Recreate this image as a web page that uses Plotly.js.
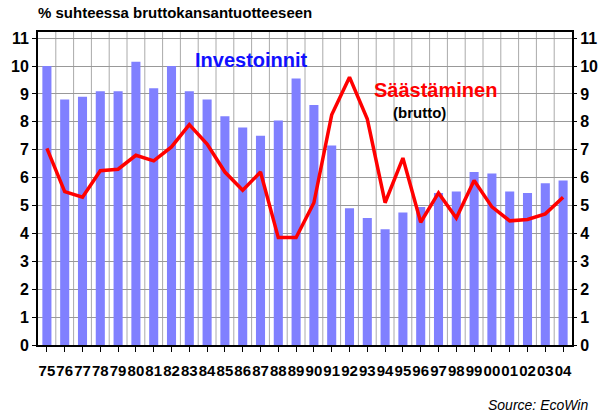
<!DOCTYPE html>
<html>
<head>
<meta charset="utf-8">
<script src="https://cdn.plot.ly/plotly-3.0.1.min.js"></script>
<style>html,body{margin:0;padding:0;background:#fff;}#chart{width:605px;height:416px;}</style>
</head>
<body>
<div id="chart"></div>
<script>
const years = ['75','76','77','78','79','80','81','82','83','84','85','86','87','88','89','90','91','92','93','94','95','96','97','98','99','00','01','02','03','04'];
const investoinnit = [10.0,8.8,8.9,9.1,9.1,10.15,9.2,10.0,9.1,8.8,8.2,7.8,7.5,8.05,9.55,8.6,7.15,4.9,4.55,4.15,4.75,4.95,5.45,5.5,6.2,6.15,5.5,5.45,5.8,5.9];
const saastaminen = [7.05,5.5,5.3,6.25,6.3,6.8,6.6,7.1,7.9,7.2,6.2,5.55,6.2,3.85,3.85,5.1,8.25,9.6,8.1,5.1,6.7,4.4,5.45,4.55,5.9,4.95,4.45,4.5,4.7,5.3];
const yTicks = [0,1,2,3,4,5,6,7,8,9,10,11];

const F = 'Arial, "Liberation Sans", sans-serif';
const idx = years.map((_, i) => i);

const data = [
  {type:'bar', x: idx, y: investoinnit, marker:{color:'#8080ff'}, hoverinfo:'skip'},
  {type:'scatter', mode:'lines', x: idx, y: saastaminen, line:{color:'#ff0000', width:3.5}, hoverinfo:'skip'},
  {type:'scatter', mode:'lines', x: idx, y: saastaminen, yaxis:'y2', line:{width:0}, opacity:0, hoverinfo:'skip'}
];

const layout = {
  width:605, height:416,
  margin:{l:38, r:33, t:32, b:71},
  paper_bgcolor:'#fff', plot_bgcolor:'#fff',
  showlegend:false,
  bargap:0.49,
  font:{family:F, color:'#000'},
  title:{text:'<b>% suhteessa bruttokansantuotteeseen</b>', x:38/605, xanchor:'left', xref:'container', y:1-13/416, yanchor:'middle', yref:'container', font:{family:F, size:15, color:'#000'}},
  xaxis:{
    range:[-0.5, 29.5], tickmode:'array', tickvals:idx, ticktext:years, tickangle:0,
    showgrid:false, zeroline:false,
    showline:true, linecolor:'#000', linewidth:2, mirror:true,
    ticks:'outside', ticklen:5, tickcolor:'#000', tickwidth:1,
    tickfont:{family:F, size:15, color:'#000', weight:'bold'},
    ticklabelstandoff:6,
    fixedrange:true
  },
  yaxis:{
    range:[0, 11.22], tickvals:yTicks, ticktext:yTicks.map(String),
    showgrid:true, gridcolor:'#999', gridwidth:1, zeroline:false,
    showline:true, linecolor:'#000', linewidth:2, mirror:true,
    ticks:'outside', ticklen:4, tickcolor:'#000',
    tickfont:{family:F, size:16, color:'#000', weight:'bold'},
    fixedrange:true
  },
  yaxis2:{
    overlaying:'y', side:'right', range:[0, 11.22], tickvals:yTicks, ticktext:yTicks.map(String),
    showgrid:false, zeroline:false, showline:false,
    ticks:'outside', ticklen:4, tickcolor:'#000',
    tickfont:{family:F, size:16, color:'#000', weight:'bold'},
    fixedrange:true
  },
  shapes: idx.slice(1).map(i => ({type:'line', xref:'x', yref:'paper', x0:i-0.5, x1:i-0.5, y0:0, y1:1, line:{color:'#aaa', width:1}, layer:'below'})),
  annotations:[
    {text:'<b>Investoinnit</b>', xref:'paper', yref:'paper', x:(251-38)/534, y:(345-60)/313, showarrow:false, xanchor:'center', yanchor:'middle', font:{family:F, size:20, color:'#1010ff'}},
    {text:'<b>Säästäminen</b>', xref:'paper', yref:'paper', x:(435-38)/534, y:(345-90)/313, showarrow:false, xanchor:'center', yanchor:'middle', font:{family:F, size:20, color:'#ff0000'}},
    {text:'<b>(brutto)</b>', xref:'paper', yref:'paper', x:(419-38)/534, y:(345-112)/313, showarrow:false, xanchor:'center', yanchor:'middle', font:{family:F, size:15, color:'#000'}},
    {text:'<i>Source: EcoWin</i>', xref:'paper', yref:'paper', x:(590-38)/534, y:(345-405)/313, showarrow:false, xanchor:'right', yanchor:'middle', font:{family:F, size:14, color:'#000'}}
  ]
};

Plotly.newPlot('chart', data, layout, {staticPlot:true, displayModeBar:false});
</script>
</body>
</html>
